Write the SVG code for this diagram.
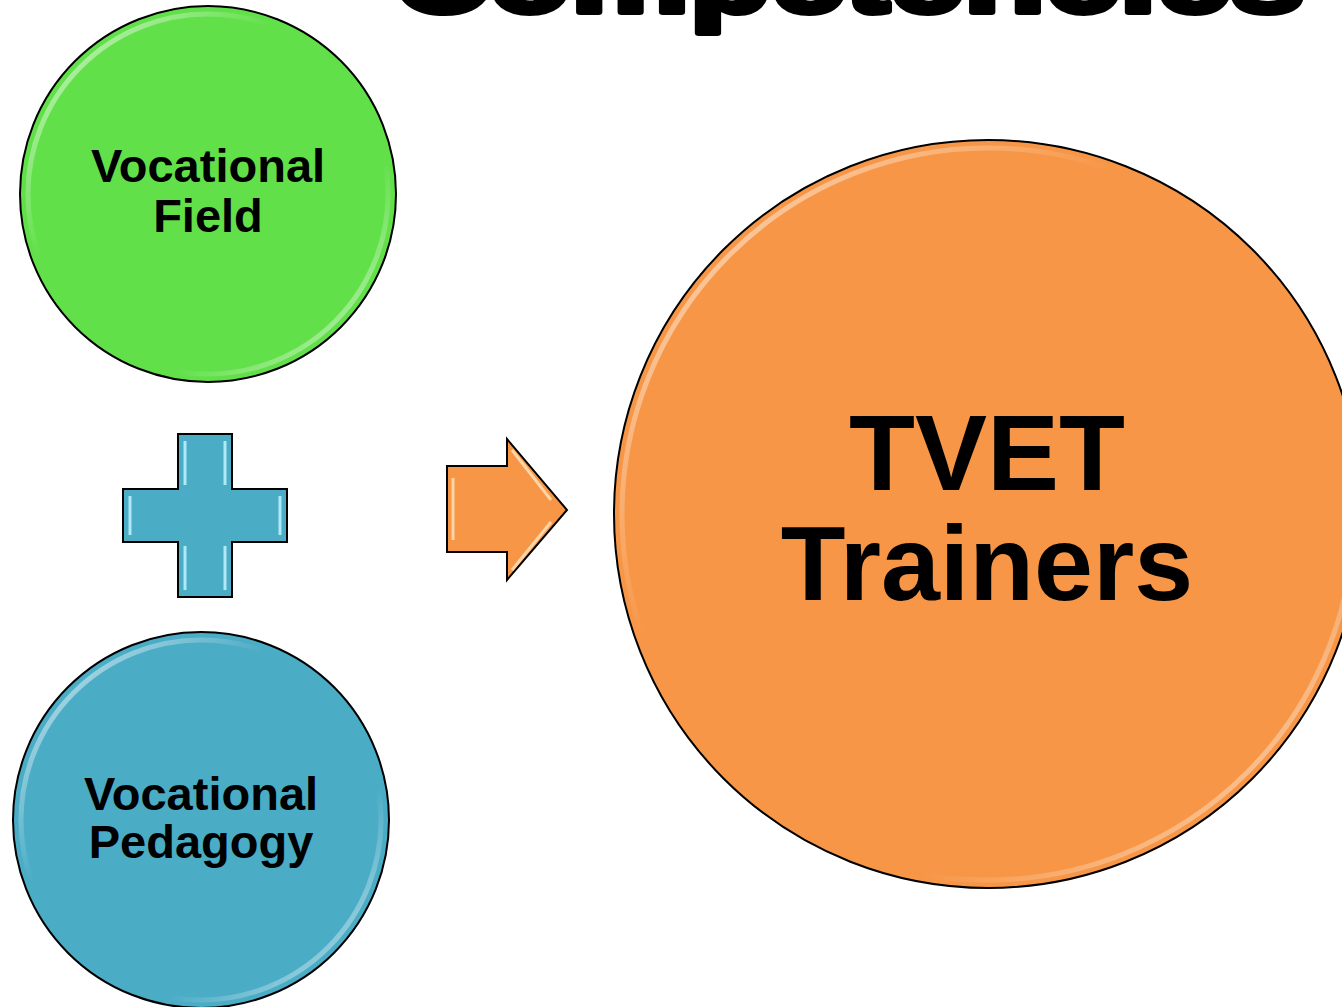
<svg xmlns="http://www.w3.org/2000/svg" width="1342" height="1007" viewBox="0 0 1342 1007">
<defs>
<style>
.lbl{font-family:"Liberation Sans",Arial,sans-serif;font-weight:bold;fill:#000;text-anchor:middle}
.edge{stroke:#000;stroke-width:2}
.gloss{fill:none;stroke-width:5}
</style>
<linearGradient id="ringG" x1="0" y1="0" x2="1" y2="1">
<stop offset="0" stop-color="#fff" stop-opacity="0.75"/>
<stop offset="0.35" stop-color="#fff" stop-opacity="0"/>
<stop offset="0.7" stop-color="#fff" stop-opacity="0"/>
<stop offset="1" stop-color="#fff" stop-opacity="0.7"/>
</linearGradient>
</defs>
<rect width="1342" height="1007" fill="#fff"/>
<g id="title">
<text x="393" y="12" font-family="'Liberation Sans',Arial,sans-serif" font-weight="bold" font-size="100" textLength="912" lengthAdjust="spacingAndGlyphs" fill="#000" stroke="#000" stroke-width="6" stroke-linejoin="round">Competencies</text>
</g>
<g id="node-vocational-field">
<circle cx="208" cy="194" r="188" fill="#62E04A" class="edge"/>
<circle cx="208" cy="194" r="180" class="gloss" stroke="url(#ringG)"/>
<text class="lbl" x="208" y="182" font-size="47">Vocational</text>
<text class="lbl" x="208" y="232" font-size="47">Field</text>
</g>
<g id="node-plus">
<path d="M178,434 H232 V489 H287 V542 H232 V597 H178 V542 H123 V489 H178 Z" fill="#4BACC6" class="edge"/>
<path d="M185,441 V485 M225,441 V485 M185,546 V590 M225,546 V590 M130,496 V535 M280,496 V535" stroke="#BFF3FF" stroke-width="3" fill="none" opacity="0.85"/>
</g>
<g id="node-vocational-pedagogy">
<circle cx="201" cy="820" r="188" fill="#4BACC6" class="edge"/>
<circle cx="201" cy="820" r="180" class="gloss" stroke="url(#ringG)"/>
<text class="lbl" x="201" y="810" font-size="47">Vocational</text>
<text class="lbl" x="201" y="858" font-size="47">Pedagogy</text>
</g>
<g id="connectors">
<path d="M447,466 H507 V439 L567,510 L507,580 V552 H447 Z" fill="#F79646" class="edge"/>
<path d="M453,478 V540 M512,450 L551,500 M512,570 L551,522" stroke="#FFE0B8" stroke-width="3" fill="none" opacity="0.85"/>
</g>
<g id="node-tvet-trainers">
<circle cx="988" cy="514" r="374" fill="#F79646" class="edge"/>
<circle cx="988" cy="514" r="366" class="gloss" stroke="url(#ringG)"/>
<text class="lbl" x="987" y="490" font-size="108">TVET</text>
<text class="lbl" x="987" y="600" font-size="106">Trainers</text>
</g>
</svg>
